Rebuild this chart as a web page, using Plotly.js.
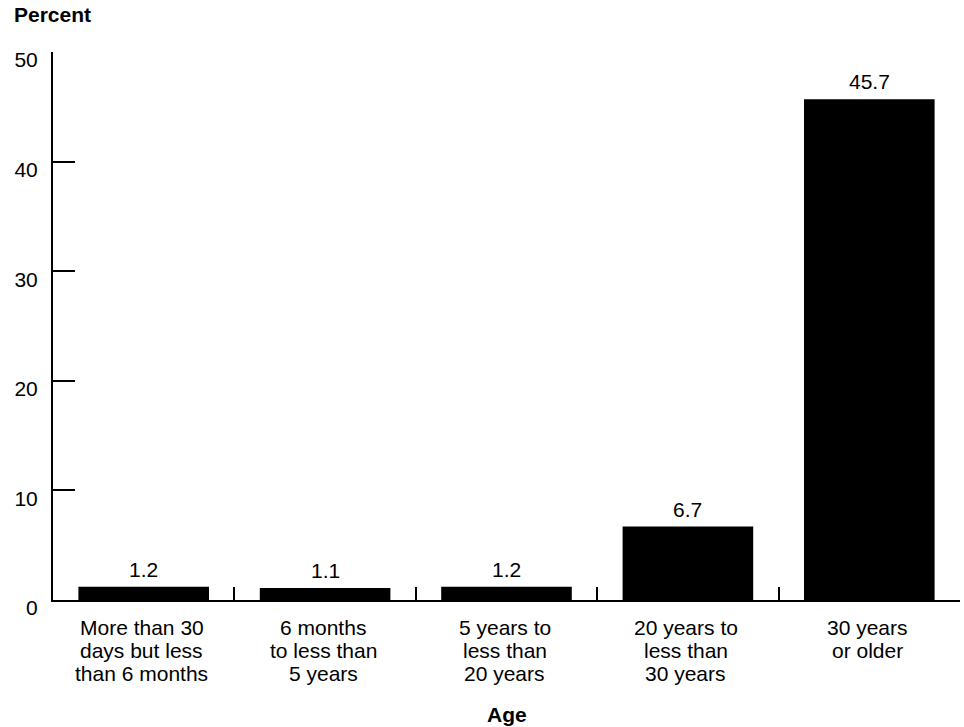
<!DOCTYPE html>
<html>
<head>
<meta charset="utf-8">
<script src="https://cdn.plot.ly/plotly-3.0.1.min.js"></script>
<style>html,body{margin:0;padding:0;background:#fff;}#chart{width:964px;height:727px;}</style>
</head>
<body>
<div id="chart"></div>
<script>
const categories = [
  "More than 30 days but less than 6 months",
  "6 months to less than 5 years",
  "5 years to less than 20 years",
  "20 years to less than 30 years",
  "30 years or older"
];
const labelLines = [
  ["More than 30", "days but less", "than 6 months"],
  ["6 months", "to less than", "5 years"],
  ["5 years to", "less than", "20 years"],
  ["20 years to", "less than", "30 years"],
  ["30 years", "or older"]
];
const percents = [1.2, 1.1, 1.2, 6.7, 45.7];
const valueLabels = ["1.2", "1.1", "1.2", "6.7", "45.7"];
const yTickVals = [0, 10, 20, 30, 40, 50];

const FONT = "Liberation Sans, Arial, Helvetica, sans-serif";
const FS = 21;
const annotations = [];
labelLines.forEach((lines, ci) => {
  lines.forEach((ln, li) => {
    annotations.push({
      x: categories[ci], xref: "x", y: 0, yref: "paper",
      text: ln, showarrow: false, xanchor: "center", yanchor: "middle",
      xshift: -2, yshift: -(27 + li * 23), font: {family: FONT, size: FS, color: "#000"}
    });
  });
});
categories.forEach((c, i) => {
  annotations.push({
    x: c, xref: "x", y: percents[i], yref: "y", text: valueLabels[i], showarrow: false,
    xanchor: "center", yanchor: "bottom", yshift: 4,
    font: {family: FONT, size: FS, color: "#000"}
  });
});
annotations.push({
  x: 0.5, xref: "paper", y: 0, yref: "paper", text: "<b>Age</b>", showarrow: false,
  xanchor: "center", yanchor: "middle", yshift: -114,
  font: {family: FONT, size: FS, color: "#000"}
});

const trace = {
  type: "bar", x: categories, y: percents,
  marker: {color: "#000", line: {width: 0}},
  hoverinfo: "none"
};

const layout = {
  width: 964, height: 727,
  margin: {l: 53, r: 4, t: 52, b: 127},
  paper_bgcolor: "#fff", plot_bgcolor: "#fff",
  showlegend: false, bargap: 0.28,
  font: {family: FONT, color: "#000"},
  title: {text: "<b>Percent</b>", x: 14/964, xanchor: "left", xref: "container",
          y: 1 - 15/727, yanchor: "middle", yref: "container",
          font: {family: FONT, size: FS, color: "#000"}},
  xaxis: {
    type: "category", showgrid: false, zeroline: false,
    showline: true, linecolor: "#000", linewidth: 2,
    ticks: "inside", tickson: "boundaries", ticklen: 13, tickwidth: 2, tickcolor: "#000",
    showticklabels: false
  },
  yaxis: {
    range: [0, 50], tickvals: yTickVals, showgrid: false, zeroline: false,
    showline: true, linecolor: "#000", linewidth: 2,
    ticks: "inside", ticklen: 22, tickwidth: 2, tickcolor: "#000",
    tickfont: {family: FONT, size: FS, color: "#000"},
    ticklabelshift: 8, ticklabelstandoff: 9
  },
  annotations: annotations
};

Plotly.newPlot("chart", [trace], layout, {displayModeBar: false, staticPlot: true});
</script>
</body>
</html>
